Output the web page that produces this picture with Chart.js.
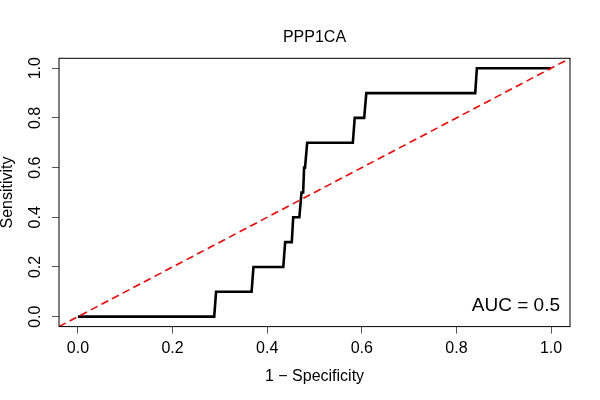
<!DOCTYPE html>
<html>
<head>
<meta charset="utf-8">
<script src="https://cdn.jsdelivr.net/npm/chart.js@4/dist/chart.umd.min.js"></script>
<style>
  html, body { margin: 0; padding: 0; background: #ffffff; }
  #wrap { width: 600px; height: 400px; }
</style>
</head>
<body>
<div id="wrap"><canvas id="c" width="600" height="400"></canvas></div>
<script>
// ---- data ----
const chartTitle = 'PPP1CA';
const xTitle = '1 \u2212 Specificity';
const yTitle = 'Sensitivity';
const aucLabel = 'AUC = 0.5';
const fpr = [0, 0.288, 0.292, 0.367, 0.371, 0.434, 0.438, 0.452, 0.455, 0.468, 0.4725, 0.476, 0.478, 0.480, 0.4845, 0.581, 0.585, 0.605, 0.6095, 0.8397, 0.8432, 1.0];
const tpr = [0, 0, 0.1, 0.1, 0.2, 0.2, 0.3, 0.3, 0.4, 0.4, 0.5, 0.5, 0.6, 0.6, 0.7, 0.7, 0.8, 0.8, 0.9, 0.9, 1.0, 1.0];
const xTicks = [0, 0.2, 0.4, 0.6, 0.8, 1.0];
const yTicks = [0, 0.2, 0.4, 0.6, 0.8, 1.0];
const axisRange = [-0.04, 1.04];

const FONT = '"Liberation Sans", Arial, Helvetica, sans-serif';

const rocPoints = fpr.map((x, i) => ({ x: x, y: tpr[i] }));
const diagPoints = axisRange.map(v => ({ x: v, y: v }));

const boxPlugin = {
  id: 'boxPlugin',
  afterDraw(chart) {
    const { ctx, chartArea: a } = chart;
    ctx.save();
    ctx.strokeStyle = '#000';
    ctx.lineWidth = 1;
    ctx.strokeRect(a.left, a.top, a.right - a.left, a.bottom - a.top);
    ctx.fillStyle = '#000';
    ctx.font = '19px ' + FONT;
    ctx.textAlign = 'right';
    ctx.textBaseline = 'alphabetic';
    ctx.fillText(aucLabel, a.right - 10, a.bottom - 15.9);
    ctx.restore();
  }
};

new Chart(document.getElementById('c'), {
  type: 'scatter',
  data: {
    datasets: [
      {
        data: diagPoints,
        showLine: true,
        borderColor: '#ff0000',
        borderWidth: 1.6,
        borderDash: [7.5, 4.5],
        pointRadius: 0,
        tension: 0
      },
      {
        data: rocPoints,
        showLine: true,
        borderColor: '#000000',
        borderWidth: 2.6,
        pointRadius: 0,
        tension: 0
      }
    ]
  },
  options: {
    responsive: false,
    animation: false,
    devicePixelRatio: 1,
    layout: { padding: { left: 0, right: 30, top: 0, bottom: 0 } },
    plugins: {
      legend: { display: false },
      tooltip: { enabled: false },
      title: {
        display: true,
        text: chartTitle,
        fullSize: false,
        color: '#000',
        font: { family: FONT, size: 16, weight: 'normal', lineHeight: 1.2 },
        padding: { top: 27.6, bottom: 11.5 }
      }
    },
    scales: {
      x: {
        type: 'linear',
        min: axisRange[0],
        max: axisRange[1],
        afterBuildTicks: s => { s.ticks = xTicks.map(v => ({ value: v })); },
        afterFit: s => { s.height = 73.4; },
        ticks: {
          color: '#000',
          font: { family: FONT, size: 16, lineHeight: 1.2 },
          padding: 5.1,
          maxRotation: 0,
          minRotation: 0,
          autoSkip: false,
          callback: v => Number(v).toFixed(1)
        },
        grid: { display: true, drawOnChartArea: false, drawTicks: true, tickLength: 7, color: '#555', lineWidth: 1 },
        border: { display: false },
        title: {
          display: true,
          text: xTitle,
          color: '#000',
          font: { family: FONT, size: 16, lineHeight: 1.2 },
          padding: { top: 0, bottom: 13.4 }
        }
      },
      y: {
        type: 'linear',
        min: axisRange[0],
        max: axisRange[1],
        afterBuildTicks: s => { s.ticks = yTicks.map(v => ({ value: v })); },
        afterFit: s => { s.width = 59; },
        ticks: {
          color: '#000',
          font: { family: FONT, size: 16, lineHeight: 1.2 },
          padding: 5.1,
          minRotation: 90,
          maxRotation: 90,
          crossAlign: 'center',
          autoSkip: false,
          callback: v => Number(v).toFixed(1)
        },
        grid: { display: true, drawOnChartArea: false, drawTicks: true, tickLength: 7, color: '#555', lineWidth: 1 },
        border: { display: false },
        title: {
          display: true,
          text: yTitle,
          color: '#000',
          font: { family: FONT, size: 16, lineHeight: 0.94 },
          padding: { top: 0, bottom: 0 }
        }
      }
    }
  },
  plugins: [boxPlugin]
});
</script>
</body>
</html>
